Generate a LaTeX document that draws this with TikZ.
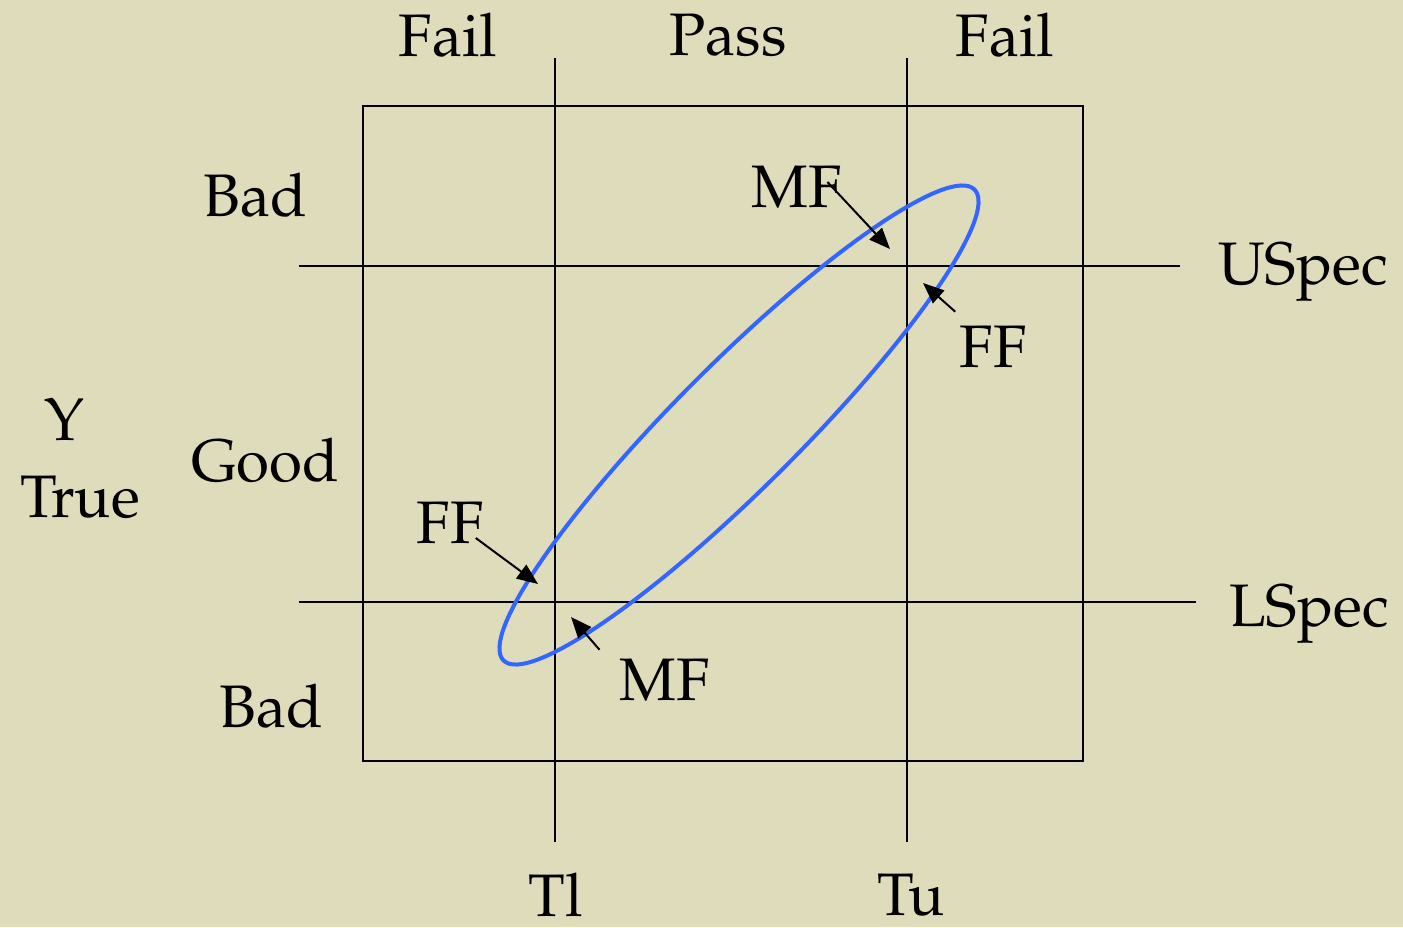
\documentclass[tikz,border=0pt]{standalone}
\usepackage[T1]{fontenc}
\usepackage{mathpazo}
\usetikzlibrary{arrows.meta}
\definecolor{paper}{RGB}{223,220,188}
\definecolor{ellblue}{RGB}{51,102,255}
\begin{document}
\begin{tikzpicture}[x=0.5pt, y=-0.5pt, >={Triangle[length=10.5pt,width=8.5pt]},
		every node/.style={inner sep=0pt, font=\fontsize{30}{36}\selectfont},
		grid/.style={line width=1pt}]
	% 0. 背景与边界
	\fill[paper] (0,0) rectangle (1403,927);
	\useasboundingbox (0,0) rectangle (1403,927);
	
	% 1. 外框与规格线、阈值线
	\draw[grid] (363,106) rectangle (1083,761);
	\draw[grid] (555,58) -- (555,842);
	\draw[grid] (907,58) -- (907,842);
	\draw[grid] (299,266) -- (1180,266);
	\draw[grid] (299,602) -- (1196,602);
	
	% 2. 联合分布椭圆
	\draw[ellblue, line width=2pt, rotate around={45:(739,425)}] (739,425) ellipse (333 and 62);
	
	% 3. 区域标签
	\node (failL) at (448,35) {Fail};
	\node (pass) at (728,35) {Pass};
	\node (failR) at (1005,35) {Fail};
	\node (badT) at (255,195) {Bad};
	\node (good) at (265,460) {Good};
	\node (badB) at (271,706) {Bad};
	\node (yLab) at (65,420) {Y};
	\node (trueLab) at (80,497) {True};
	\node (uspec) at (1303,272) {USpec};
	\node (lspec) at (1309,614) {LSpec};
	\node (tl) at (556,895) {Tl};
	\node (tu) at (911,895) {Tu};
	
	% 4. 误判标签与箭头
	\node (mfA) at (797,187) {MF};
	\node (ffA) at (993,347) {FF};
	\node (ffB) at (450,523) {FF};
	\node (mfB) at (665,680) {MF};
	\coordinate (mfAtip) at (890,249);
	\coordinate (ffAtip) at (923,283);
	\coordinate (ffBtip) at (538,584);
	\coordinate (mfBtip) at (571,617);
	\draw[->, line width=1pt] ([shift={(-15,-5)}]mfA.east) -- (mfAtip);
	\draw[->, line width=1pt] ([shift={(-4,-14)}]ffA.north west) -- (ffAtip);
	\draw[->, line width=1pt] ([shift={(-8,15)}]ffB.east) -- (ffBtip);
	\draw[->, line width=1pt] ([shift={(-20,-9)}]mfB.north west) -- (mfBtip);
\end{tikzpicture}
\end{document}
